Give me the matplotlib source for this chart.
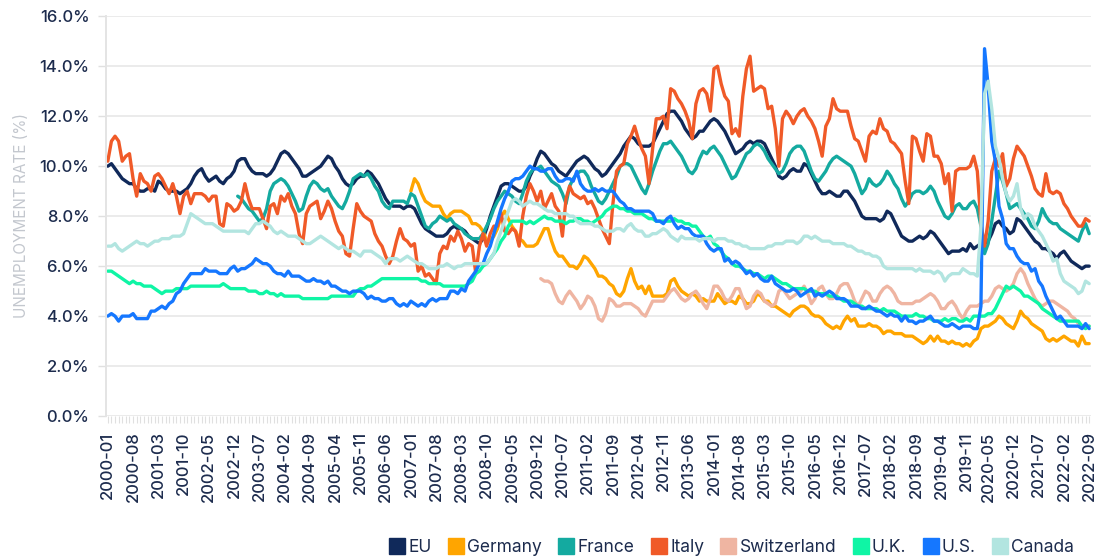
import matplotlib
matplotlib.use('Agg')
import matplotlib.pyplot as plt
from matplotlib.lines import Line2D
import numpy as np
import pandas as pd

plt.rcParams['font.family'] = ['Inter', 'DejaVu Sans']

# monthly categories 2000-01 .. 2022-09
months = pd.date_range('2000-01-01', periods=273, freq='MS').strftime('%Y-%m').tolist()

tick_labels = [
    '2000-01', '2000-08', '2001-03', '2001-10', '2002-05', '2002-12', '2003-07', '2004-02',
    '2004-09', '2005-04', '2005-11', '2006-06', '2007-01', '2007-08', '2008-03', '2008-10',
    '2009-05', '2009-12', '2010-07', '2011-02', '2011-09', '2012-04', '2012-11', '2013-06',
    '2014-01', '2014-08', '2015-03', '2015-10', '2016-05', '2016-12', '2017-07', '2018-02',
    '2018-09', '2019-04', '2019-11', '2020-05', '2020-12', '2021-07', '2022-02', '2022-09',
]

eu = [
    10.0, 10.1, 9.9, 9.7, 9.5, 9.4, 9.3, 9.3, 9.1, 9.0, 9.0, 9.1,
    9.1, 9.0, 9.4, 9.3, 9.1, 9.0, 9.0, 9.0, 8.9, 9.0, 9.1, 9.3,
    9.6, 9.8, 9.9, 9.6, 9.4, 9.5, 9.6, 9.4, 9.3, 9.5, 9.6, 9.8,
    10.2, 10.3, 10.3, 10.0, 9.8, 9.7, 9.7, 9.7, 9.6, 9.7, 9.9, 10.2,
    10.5, 10.6, 10.5, 10.3, 10.1, 9.9, 9.6, 9.6, 9.7, 9.8, 9.9, 10.0,
    10.2, 10.4, 10.3, 10.0, 9.8, 9.5, 9.3, 9.2, 9.3, 9.5, 9.6, 9.6,
    9.8, 9.7, 9.5, 9.3, 9.0, 8.7, 8.5, 8.4, 8.4, 8.4, 8.3, 8.4,
    8.4, 8.3, 8.0, 7.7, 7.5, 7.4, 7.3, 7.2, 7.2, 7.2, 7.3, 7.5,
    7.6, 7.5, 7.5, 7.4, 7.2, 7.1, 7.0, 6.9, 7.1, 7.5, 8.0, 8.4,
    8.8, 9.2, 9.3, 9.3, 9.2, 9.1, 9.0, 9.0, 9.2, 9.6, 9.9, 10.3,
    10.6, 10.5, 10.3, 10.1, 10.0, 9.8, 9.7, 9.6, 9.8, 10.0, 10.2, 10.3,
    10.4, 10.3, 10.1, 9.9, 9.8, 9.6, 9.7, 9.9, 10.1, 10.3, 10.5, 10.8,
    11.0, 11.2, 11.1, 10.9, 10.8, 10.8, 10.8, 10.9, 11.2, 11.5, 11.8, 12.1,
    12.2, 12.2, 12.0, 11.8, 11.5, 11.3, 11.1, 11.2, 11.4, 11.4, 11.6, 11.8,
    11.9, 11.8, 11.6, 11.4, 11.1, 10.8, 10.5, 10.6, 10.7, 10.9, 11.0, 10.9,
    11.0, 11.0, 10.9, 10.6, 10.3, 10.0, 9.6, 9.5, 9.6, 9.8, 9.9, 9.8,
    9.8, 10.1, 10.0, 9.7, 9.4, 9.1, 8.9, 8.9, 9.0, 8.9, 8.8, 8.8,
    9.0, 9.0, 8.8, 8.6, 8.3, 8.0, 7.9, 7.9, 7.9, 7.9, 7.8, 7.9,
    8.2, 8.1, 7.8, 7.5, 7.2, 7.1, 7.0, 7.0, 7.1, 7.2, 7.1, 7.2,
    7.4, 7.3, 7.1, 6.9, 6.7, 6.5, 6.6, 6.6, 6.6, 6.7, 6.6, 6.9,
    6.7, 6.8, 6.9, 6.9, 7.0, 7.3, 7.7, 7.8, 7.6, 7.5, 7.3, 7.4,
    7.9, 7.8, 7.6, 7.4, 7.2, 7.0, 6.9, 6.7, 6.7, 6.6, 6.5, 6.3,
    6.5, 6.6, 6.4, 6.2, 6.1, 6.0, 5.9, 6.0, 6.0,
]

germany = [None] * 84 + [
    9.0, 9.5, 9.3, 8.9, 8.6, 8.5, 8.4, 8.4, 8.4, 8.1, 7.9, 8.1,
    8.2, 8.2, 8.2, 8.1, 8.0, 7.7, 7.7, 7.6, 7.4, 7.0, 7.0, 7.2,
    7.5, 8.0, 8.2, 7.9, 7.6, 7.4, 7.1, 7.0, 6.8, 6.8, 6.8, 6.9,
    7.2, 7.5, 7.5, 7.0, 6.6, 6.4, 6.4, 6.2, 6.0, 6.0, 5.9, 6.1,
    6.4, 6.3, 6.1, 5.9, 5.6, 5.6, 5.5, 5.3, 5.2, 4.9, 4.8, 5.0,
    5.5, 5.9, 5.4, 5.1, 5.2, 4.9, 5.2, 4.8, 4.8, 4.8, 4.8, 4.9,
    5.4, 5.5, 5.2, 5.0, 4.9, 4.8, 4.9, 4.8, 4.6, 4.7, 4.6, 4.6,
    4.6, 4.9, 4.7, 4.5, 4.6, 4.6, 4.5, 4.8, 4.7, 4.5, 4.5, 4.6,
    4.9, 4.8, 4.6, 4.6, 4.4, 4.4, 4.3, 4.2, 4.1, 4.0, 4.2, 4.3,
    4.4, 4.4, 4.3, 4.1, 4.0, 4.0, 3.9, 3.7, 3.6, 3.5, 3.6, 3.5,
    3.8, 4.0, 3.8, 3.9, 3.6, 3.6, 3.6, 3.7, 3.6, 3.6, 3.5, 3.3,
    3.4, 3.4, 3.3, 3.3, 3.3, 3.2, 3.2, 3.2, 3.1, 3.0, 2.9, 3.0,
    3.2, 3.0, 3.2, 3.0, 3.0, 2.9, 3.0, 2.9, 2.9, 2.8, 2.9, 2.8,
    3.0, 3.1, 3.5, 3.6, 3.6, 3.7, 3.8, 4.0, 3.9, 3.7, 3.6, 3.5,
    3.8, 4.2, 4.0, 3.9, 3.7, 3.6, 3.5, 3.4, 3.1, 3.0, 3.1, 3.0,
    3.1, 3.2, 3.1, 3.0, 3.0, 2.8, 3.2, 2.9, 2.9,
]

france = [None] * 36 + [
    8.8, 8.7, 8.5, 8.3, 8.2, 8.0, 7.8, 7.9, 8.3, 9.0, 9.3, 9.4,
    9.5, 9.4, 9.2, 8.9, 8.6, 8.2, 8.3, 8.8, 9.2, 9.4, 9.3, 9.1,
    9.0, 9.1, 8.8, 8.6, 8.4, 8.3, 8.6, 9.0, 9.5, 9.6, 9.7, 9.6,
    9.7, 9.5, 9.2, 9.0, 8.6, 8.4, 8.3, 8.6, 8.6, 8.6, 8.6, 8.5,
    8.9, 8.8, 8.4, 8.0, 7.6, 7.5, 7.7, 7.8, 8.0, 7.9, 7.8, 7.9,
    7.7, 7.6, 7.5, 7.3, 7.2, 7.1, 7.1, 7.1, 7.3, 7.6, 7.9, 8.3,
    8.6, 8.8, 9.0, 8.9, 8.8, 8.6, 8.5, 8.9, 9.4, 9.7, 9.9, 9.9,
    10.0, 9.8, 9.6, 9.4, 9.3, 9.2, 8.9, 8.5, 9.2, 9.5, 9.7, 9.8,
    9.8, 9.6, 9.2, 8.9, 8.6, 8.5, 8.7, 9.0, 9.3, 9.6, 10.0, 10.1,
    10.1, 10.0, 9.7, 9.4, 9.1, 8.9, 9.3, 9.8, 10.2, 10.6, 10.9, 10.9,
    11.0, 10.8, 10.6, 10.4, 10.1, 9.8, 9.7, 9.9, 10.3, 10.6, 10.5, 10.7,
    10.8, 10.6, 10.4, 10.1, 9.8, 9.5, 9.6, 9.9, 10.2, 10.5, 10.6, 10.8,
    10.9, 10.8, 10.6, 10.3, 10.1, 9.9, 9.7, 9.8, 10.1, 10.5, 10.7, 10.8,
    10.8, 10.6, 10.2, 9.8, 9.5, 9.4, 9.6, 9.8, 10.1, 10.3, 10.4, 10.3,
    10.2, 10.1, 10.0, 9.7, 9.3, 8.9, 9.1, 9.5, 9.3, 9.2, 9.3, 9.5,
    9.8, 9.6, 9.3, 9.1, 8.7, 8.4, 8.6, 8.9, 9.0, 9.0, 8.9, 9.0,
    9.2, 9.0, 8.6, 8.3, 8.0, 7.9, 8.1, 8.4, 8.5, 8.3, 8.3, 8.5,
    8.6, 8.3, 7.6, 6.5, 6.9, 7.8, 8.8, 9.8, 9.4, 8.9, 8.3, 8.4,
    8.5, 8.3, 8.1, 7.9, 7.6, 7.5, 7.8, 8.3, 8.0, 7.8, 7.7, 7.7,
    7.5, 7.4, 7.3, 7.2, 7.1, 7.0, 7.4, 7.7, 7.3,
]

italy = [
    10.2, 11.0, 11.2, 11.0, 10.2, 10.4, 10.5, 9.5, 8.8, 9.7, 9.4, 9.3,
    9.0, 9.6, 9.7, 9.5, 9.2, 8.9, 9.3, 8.8, 8.1, 8.8, 9.0, 8.5,
    8.9, 8.9, 8.9, 8.8, 8.6, 8.8, 8.8, 7.7, 7.6, 8.5, 8.4, 8.2,
    8.3, 8.6, 9.3, 8.7, 8.3, 8.3, 8.3, 7.9, 7.5, 8.4, 8.5, 8.1,
    8.8, 8.6, 8.9, 8.4, 8.1, 7.3, 6.9, 8.1, 8.4, 8.5, 8.6, 7.9,
    8.2, 8.6, 8.3, 7.8, 7.4, 7.2, 6.5, 6.4, 7.5, 8.5, 8.2, 8.0,
    7.9, 7.8, 7.3, 7.0, 6.8, 6.4, 6.1, 6.4, 7.0, 7.5, 7.1, 7.0,
    6.8, 6.9, 5.8, 6.0, 5.6, 5.7, 5.5, 5.3, 6.5, 6.8, 6.7, 7.2,
    7.0, 7.4, 7.1, 6.6, 6.9, 6.8, 5.7, 6.8, 7.3, 6.8, 7.3, 7.6,
    7.6, 8.1, 7.4, 7.3, 7.5, 7.4, 6.8, 8.0, 8.8, 9.3, 9.0, 8.6,
    9.0, 8.3, 8.6, 8.9, 8.4, 8.2, 7.2, 8.7, 9.2, 8.9, 8.8, 8.7,
    8.8, 8.5, 8.6, 8.3, 7.9, 7.5, 7.2, 6.9, 8.5, 9.8, 10.0, 10.1,
    10.9, 11.2, 11.6, 11.1, 10.7, 10.4, 9.3, 10.7, 11.9, 11.9, 12.0, 11.5,
    13.1, 13.0, 12.7, 12.5, 12.2, 11.8, 11.1, 12.5, 13.0, 13.1, 12.9, 12.2,
    13.9, 14.0, 13.3, 12.8, 12.6, 11.3, 11.5, 11.2, 12.8, 13.9, 14.4, 13.0,
    13.1, 13.2, 13.1, 12.3, 12.4, 11.5, 10.0, 11.9, 12.2, 12.0, 11.7, 12.0,
    12.2, 12.3, 12.0, 11.8, 11.5, 11.0, 10.4, 11.6, 11.9, 12.7, 12.3, 12.2,
    12.2, 12.2, 11.6, 11.1, 11.0, 10.6, 10.2, 11.2, 11.4, 11.3, 11.9, 11.5,
    11.4, 11.0, 10.9, 10.7, 10.5, 9.4, 8.5, 11.2, 11.1, 10.6, 10.2, 11.3,
    11.2, 10.4, 10.4, 10.1, 9.3, 9.7, 8.2, 9.8, 9.9, 9.9, 9.9, 10.0,
    10.4, 9.8, 7.7, 6.8, 7.8, 9.8, 10.3, 10.0, 10.5, 9.2, 9.5, 10.3,
    10.8, 10.6, 10.4, 10.0, 9.6, 9.1, 8.9, 8.8, 9.7, 9.0, 8.9, 9.0,
    8.9, 8.5, 8.3, 8.0, 7.8, 7.6, 7.6, 7.9, 7.8,
]

switzerland = [None] * 120 + [
    5.5, 5.4, 5.4, 5.3, 4.9, 4.6, 4.5, 4.8, 5.0, 4.8, 4.6, 4.3,
    4.5, 4.8, 4.7, 4.4, 3.9, 3.8, 4.1, 4.7, 4.6, 4.4, 4.4, 4.5,
    4.5, 4.5, 4.4, 4.3, 4.1, 4.0, 4.3, 4.6, 4.6, 4.6, 4.6, 4.8,
    5.0, 5.1, 4.9, 4.7, 4.6, 4.7, 4.9, 5.0, 4.8, 4.5, 4.3, 4.7,
    5.2, 5.2, 5.0, 4.7, 4.6, 4.8, 5.1, 5.1, 4.7, 4.3, 4.4, 4.8,
    5.0, 4.9, 4.6, 4.5, 4.4, 4.5, 5.0, 5.1, 4.9, 4.7, 4.8, 4.9,
    5.0, 5.2, 4.9, 4.5, 4.7, 5.1, 5.2, 4.9, 4.7, 4.7, 4.9, 5.2,
    5.3, 5.3, 5.0, 4.6, 4.4, 4.7, 5.0, 4.9, 4.6, 4.6, 4.9, 5.1,
    5.2, 5.1, 4.9, 4.6, 4.5, 4.5, 4.5, 4.5, 4.6, 4.6, 4.7, 4.8,
    4.9, 4.8, 4.6, 4.3, 4.3, 4.5, 4.6, 4.4, 4.1, 3.9, 4.2, 4.4,
    4.4, 4.4, 4.5, 4.6, 4.6, 4.8, 5.1, 5.2, 5.1, 5.0, 5.1, 5.3,
    5.7, 5.9, 5.7, 5.3, 5.0, 4.7, 4.5, 4.4, 4.5, 4.6, 4.6, 4.5,
    4.4, 4.3, 4.2, 4.0, 3.9, 3.7, 3.6, 3.6, 3.6,
]

uk = [
    5.8, 5.8, 5.7, 5.6, 5.5, 5.4, 5.3, 5.4, 5.3, 5.3, 5.2, 5.2,
    5.2, 5.1, 5.0, 4.9, 5.0, 5.0, 5.0, 5.1, 5.1, 5.1, 5.1, 5.2,
    5.2, 5.2, 5.2, 5.2, 5.2, 5.2, 5.2, 5.2, 5.3, 5.2, 5.1, 5.1,
    5.1, 5.1, 5.1, 5.0, 5.0, 5.0, 4.9, 4.9, 5.0, 4.9, 4.9, 4.8,
    4.9, 4.8, 4.8, 4.8, 4.8, 4.8, 4.7, 4.7, 4.7, 4.7, 4.7, 4.7,
    4.7, 4.7, 4.8, 4.8, 4.8, 4.8, 4.8, 4.8, 4.8, 5.0, 5.1, 5.1,
    5.2, 5.2, 5.3, 5.4, 5.5, 5.5, 5.5, 5.5, 5.5, 5.5, 5.5, 5.5,
    5.5, 5.5, 5.5, 5.4, 5.4, 5.3, 5.3, 5.3, 5.3, 5.2, 5.2, 5.2,
    5.2, 5.2, 5.2, 5.2, 5.3, 5.4, 5.7, 5.8, 6.0, 6.1, 6.3, 6.5,
    6.7, 7.0, 7.2, 7.6, 7.8, 7.8, 7.8, 7.8, 7.7, 7.8, 7.7, 7.8,
    7.9, 8.0, 7.9, 7.9, 7.8, 7.8, 7.8, 7.7, 7.8, 7.8, 7.9, 7.9,
    7.8, 7.8, 7.7, 7.8, 7.9, 8.0, 8.2, 8.3, 8.4, 8.4, 8.3, 8.3,
    8.2, 8.2, 8.1, 8.1, 8.1, 8.0, 7.9, 7.9, 7.8, 7.8, 7.8, 7.8,
    7.8, 7.9, 7.8, 7.8, 7.7, 7.7, 7.6, 7.6, 7.4, 7.2, 7.1, 7.2,
    6.9, 6.8, 6.6, 6.4, 6.3, 6.1, 6.0, 6.0, 5.9, 5.8, 5.8, 5.7,
    5.7, 5.6, 5.5, 5.6, 5.6, 5.5, 5.4, 5.3, 5.3, 5.2, 5.1, 5.1,
    5.1, 5.1, 5.0, 5.0, 5.0, 4.9, 4.9, 4.9, 4.8, 4.8, 4.8, 4.7,
    4.6, 4.6, 4.6, 4.5, 4.4, 4.4, 4.3, 4.3, 4.3, 4.3, 4.2, 4.3,
    4.2, 4.2, 4.2, 4.1, 4.0, 4.0, 4.0, 4.0, 4.1, 4.0, 4.0, 3.9,
    3.9, 3.8, 3.8, 3.8, 3.9, 3.8, 3.9, 3.9, 3.8, 3.8, 3.9, 3.8,
    4.0, 4.0, 4.0, 4.0, 4.1, 4.1, 4.3, 4.6, 4.9, 5.2, 5.1, 5.2,
    5.1, 5.0, 4.8, 4.8, 4.7, 4.6, 4.5, 4.3, 4.2, 4.1, 4.0, 3.9,
    3.8, 3.8, 3.8, 3.8, 3.8, 3.8, 3.6, 3.5, 3.6,
]

us = [
    4.0, 4.1, 4.0, 3.8, 4.0, 4.0, 4.0, 4.1, 3.9, 3.9, 3.9, 3.9,
    4.2, 4.2, 4.3, 4.4, 4.3, 4.5, 4.6, 4.9, 5.0, 5.3, 5.5, 5.7,
    5.7, 5.7, 5.7, 5.9, 5.8, 5.8, 5.8, 5.7, 5.7, 5.7, 5.9, 6.0,
    5.8, 5.9, 5.9, 6.0, 6.1, 6.3, 6.2, 6.1, 6.1, 6.0, 5.8, 5.7,
    5.7, 5.6, 5.8, 5.6, 5.6, 5.6, 5.5, 5.4, 5.4, 5.5, 5.4, 5.4,
    5.3, 5.4, 5.2, 5.2, 5.1, 5.0, 5.0, 4.9, 5.0, 5.0, 5.0, 4.9,
    4.7, 4.8, 4.7, 4.7, 4.6, 4.6, 4.7, 4.7, 4.5, 4.4, 4.5, 4.4,
    4.6, 4.5, 4.4, 4.5, 4.4, 4.6, 4.7, 4.6, 4.7, 4.7, 4.7, 5.0,
    5.0, 4.9, 5.1, 5.0, 5.4, 5.6, 5.8, 6.1, 6.1, 6.5, 6.8, 7.3,
    7.8, 8.3, 8.7, 9.0, 9.4, 9.5, 9.5, 9.6, 9.8, 10.0, 9.9, 9.9,
    9.8, 9.8, 9.9, 9.9, 9.6, 9.4, 9.4, 9.5, 9.5, 9.4, 9.8, 9.3,
    9.1, 9.0, 9.0, 9.1, 9.0, 9.1, 9.0, 9.0, 9.0, 8.8, 8.6, 8.5,
    8.3, 8.3, 8.2, 8.2, 8.2, 8.2, 8.2, 8.1, 7.8, 7.8, 7.7, 7.9,
    8.0, 7.7, 7.5, 7.6, 7.5, 7.5, 7.3, 7.2, 7.2, 7.2, 6.9, 6.7,
    6.6, 6.7, 6.7, 6.2, 6.3, 6.1, 6.2, 6.1, 5.9, 5.7, 5.8, 5.6,
    5.7, 5.5, 5.4, 5.4, 5.6, 5.3, 5.2, 5.1, 5.0, 5.0, 5.1, 5.0,
    4.8, 4.9, 5.0, 5.1, 4.8, 4.9, 4.8, 4.9, 5.0, 4.9, 4.7, 4.7,
    4.7, 4.6, 4.4, 4.4, 4.4, 4.3, 4.3, 4.4, 4.3, 4.2, 4.2, 4.1,
    4.0, 4.1, 4.0, 4.0, 3.8, 4.0, 3.8, 3.8, 3.7, 3.8, 3.8, 3.9,
    4.0, 3.8, 3.8, 3.7, 3.6, 3.6, 3.7, 3.6, 3.5, 3.6, 3.6, 3.6,
    3.5, 3.5, 4.4, 14.7, 13.2, 11.0, 10.2, 8.4, 7.9, 6.9, 6.7, 6.7,
    6.4, 6.2, 6.1, 6.1, 5.8, 5.9, 5.4, 5.2, 4.8, 4.5, 4.2, 3.9,
    4.0, 3.8, 3.6, 3.6, 3.6, 3.6, 3.5, 3.7, 3.5,
]

canada = [
    6.8, 6.8, 6.9, 6.7, 6.6, 6.7, 6.8, 6.9, 7.0, 6.9, 6.9, 6.8,
    6.9, 7.0, 7.0, 7.1, 7.1, 7.1, 7.2, 7.2, 7.2, 7.3, 7.7, 8.1,
    8.0, 7.9, 7.8, 7.7, 7.7, 7.7, 7.6, 7.5, 7.4, 7.4, 7.4, 7.4,
    7.4, 7.4, 7.4, 7.3, 7.5, 7.7, 7.7, 7.8, 7.7, 7.6, 7.4, 7.3,
    7.4, 7.3, 7.2, 7.2, 7.2, 7.1, 7.0, 6.9, 6.9, 7.0, 7.1, 7.2,
    7.1, 7.0, 6.9, 6.8, 6.7, 6.8, 6.7, 6.6, 6.6, 6.5, 6.4, 6.6,
    6.6, 6.6, 6.5, 6.4, 6.3, 6.1, 6.3, 6.3, 6.3, 6.2, 6.3, 6.4,
    6.3, 6.2, 6.1, 6.1, 6.0, 5.9, 5.9, 5.9, 6.0, 6.0, 6.1, 6.0,
    5.9, 6.0, 6.0, 6.1, 6.1, 6.1, 6.1, 6.1, 6.1, 6.1, 6.3, 6.5,
    7.0, 7.4, 7.8, 8.2, 8.6, 8.7, 8.6, 8.4, 8.5, 8.6, 8.5, 8.5,
    8.4, 8.3, 8.2, 8.2, 8.1, 8.1, 8.1, 8.1, 8.0, 8.0, 7.8, 7.7,
    7.7, 7.7, 7.7, 7.6, 7.6, 7.5, 7.4, 7.4, 7.4, 7.5, 7.5, 7.4,
    7.6, 7.7, 7.5, 7.4, 7.4, 7.2, 7.2, 7.3, 7.3, 7.4, 7.5, 7.4,
    7.2, 7.1, 7.0, 7.2, 7.1, 7.1, 7.1, 7.1, 7.0, 7.1, 7.1, 7.1,
    7.0, 7.1, 7.1, 7.1, 7.0, 7.0, 6.9, 6.9, 6.8, 6.8, 6.7, 6.7,
    6.7, 6.7, 6.7, 6.8, 6.8, 6.9, 6.9, 6.9, 7.0, 7.0, 7.0, 6.9,
    7.0, 7.2, 7.2, 7.1, 7.2, 7.1, 7.0, 7.0, 7.0, 6.9, 6.9, 6.9,
    6.9, 6.8, 6.8, 6.7, 6.6, 6.6, 6.5, 6.5, 6.4, 6.4, 6.3, 6.0,
    5.9, 5.9, 5.9, 5.9, 5.9, 5.9, 5.9, 5.9, 5.8, 5.9, 5.8, 5.8,
    5.8, 5.7, 5.8, 5.7, 5.4, 5.6, 5.7, 5.7, 5.7, 5.9, 5.8, 5.7,
    5.7, 5.6, 7.6, 12.9, 13.4, 12.3, 10.8, 10.3, 9.5, 8.9, 8.6, 8.8,
    9.3, 8.3, 7.9, 8.1, 8.0, 7.6, 7.4, 7.2, 6.9, 6.6, 6.2, 6.3,
    5.7, 5.4, 5.3, 5.2, 5.1, 4.9, 5.0, 5.4, 5.3,
]

names = ['EU', 'Germany', 'France', 'Italy', 'Switzerland', 'U.K.', 'U.S.', 'Canada']
series = [eu, germany, france, italy, switzerland, uk, us, canada]
colors = ['#10295a', '#ffa500', '#14aaa0', '#f05a28', '#efb5a2', '#0ff5a5', '#1577ff', '#b2e5e0']

navy = '#1c2b4d'
grid_c = '#ebebeb'

fig = plt.figure(figsize=(11.02, 5.6), dpi=100)
ax = fig.add_axes([0.0962, 0.257, 0.8938, 0.714])

x = np.arange(len(months))
for name, vals, c in zip(names, series, colors):
    ax.plot(x, np.array(vals, dtype=float), color=c, lw=2.4, label=name,
            solid_joinstyle='round', solid_capstyle='round')

ax.set_xlim(-0.5, len(months) - 0.5)
ax.set_ylim(0, 16)
ax.set_yticks(np.arange(0, 17, 2))
ax.set_yticklabels([f'{v:.1f}%' for v in np.arange(0, 17, 2)])
ax.grid(axis='y', color=grid_c, lw=1.4)
ax.set_axisbelow(True)

for s in ['top', 'right', 'bottom']:
    ax.spines[s].set_visible(False)
ax.spines['left'].set_color('#e4e4e4')
ax.spines['left'].set_linewidth(1.4)

ax.set_xticks([months.index(t) for t in tick_labels])
ax.set_xticklabels(tick_labels, rotation=90)
ax.set_xticks(x, minor=True)
ax.tick_params(axis='x', which='both', length=5, color='#e0e0e0', width=0.8, pad=6,
               labelsize=12, labelcolor=navy)
ax.tick_params(axis='y', length=6, color='#e0e0e0', width=1, pad=6,
               labelsize=12, labelcolor=navy)
for lbl in ax.get_xticklabels() + ax.get_yticklabels():
    lbl.set_fontweight('medium')

fig.text(22 / 1102, 1 - 216 / 560, 'UNEMPLOYMENT RATE (%)', rotation=90,
         ha='center', va='center', color='#c3c7ce', fontsize=11)

handles = [Line2D([], [], marker='s', markersize=12, color=c, linestyle='none')
           for c in colors]
fig.legend(handles, names, loc='center right', ncol=8, frameon=False,
           bbox_to_anchor=(1090 / 1102, 1 - 548 / 560), fontsize=12.5,
           handletextpad=0.05, columnspacing=0.8, handlelength=1.2,
           labelcolor=navy)

fig.savefig('out.png', dpi=100)
